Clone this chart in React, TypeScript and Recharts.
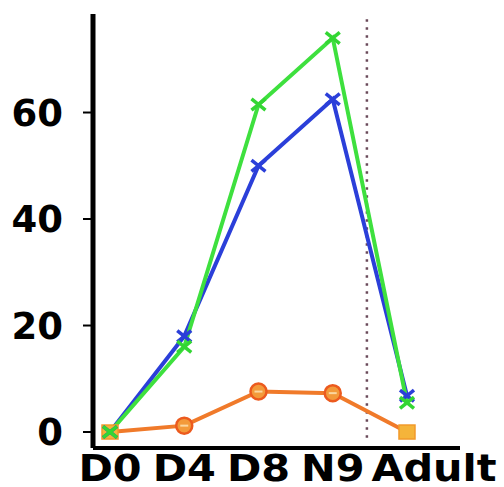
import React from 'react';
import { LineChart, Line, XAxis, YAxis, ReferenceLine } from 'recharts';

const categories = ['D0', 'D4', 'D8', 'N9', 'Adult'];
const greenValues = [0, 16, 61.5, 74, 5.5];
const blueValues = [0, 18, 50, 62.5, 6.8];
const orangeValues = [0, 1.2, 7.6, 7.3, 0];
const yTicks = [0, 20, 40, 60];
const dividerX = 3.46;

const data = categories.map((c, i) => ({
  idx: i,
  cat: c,
  green: greenValues[i],
  blue: blueValues[i],
  orange: orangeValues[i],
}));

const FONT = '"DejaVu Sans", sans-serif';

const CrossDot = (color: string) => (props: any) => {
  const { cx, cy, index } = props;
  if (cx == null || cy == null) return <g key={index} />;
  const s = 7;
  return (
    <g key={index}>
      <line x1={cx - s} y1={cy - s * 0.8} x2={cx + s} y2={cy + s * 0.8} stroke={color} strokeWidth={3.5} />
      <line x1={cx - s} y1={cy + s * 0.8} x2={cx + s} y2={cy - s * 0.8} stroke={color} strokeWidth={3.5} />
    </g>
  );
};

const OrangeDot = (props: any) => {
  const { cx, cy, index } = props;
  if (cx == null || cy == null) return <g key={index} />;
  if (index === 0 || index === 4) {
    return (
      <rect key={index} x={cx - 8} y={cy - 7} width={16} height={14} fill="#f5b43a" stroke="#f29a2a" strokeWidth={1.5} />
    );
  }
  return (
    <g key={index}>
      <circle cx={cx} cy={cy} r={8} fill="#f39a3a" stroke="#ec5a1e" strokeWidth={2.5} />
      <line x1={cx - 4} y1={cy} x2={cx + 4} y2={cy} stroke="#fbd7a0" strokeWidth={2} />
    </g>
  );
};

const XTick = (props: any) => {
  const { x, y, payload, index } = props;
  const shift = index === 4 ? 27 : 0;
  return (
    <g transform={`translate(${x + shift},${y}) scale(1.12,1)`}>
      <text x={0} y={0} dy="0.71em" textAnchor="middle" fontFamily={FONT} fontWeight="bold" fontSize={37} fill="#000">
        {categories[payload.value]}
      </text>
    </g>
  );
};

export default function App() {
  return (
    <div style={{ position: 'absolute', left: 0, top: 0, background: '#fff' }}>
      <LineChart width={504} height={487} data={data} margin={{ top: 14, right: 44, bottom: 0, left: 0 }}>
        <XAxis
          dataKey="idx"
          type="number"
          domain={[-0.229, 4.714]}
          ticks={[0, 1, 2, 3, 4]}
          height={39}
          axisLine={{ stroke: '#000', strokeWidth: 4 }}
          tickLine={false}
          tickSize={6}
          tickMargin={1}
          tick={<XTick />}
          interval={0}
          allowDataOverflow
        />
        <YAxis
          type="number"
          domain={[-3, 78.5]}
          ticks={yTicks}
          width={93}
          axisLine={{ stroke: '#000', strokeWidth: 5 }}
          tickLine={{ stroke: '#000', strokeWidth: 2 }}
          tickSize={10}
          tickMargin={20}
          tick={{ fontFamily: FONT, fontWeight: 'bold', fontSize: 37, fill: '#000' }}
          allowDataOverflow
        />
        <ReferenceLine
          segment={[{ x: dividerX, y: 77.5 }, { x: dividerX, y: -2 }]}
          stroke="#6a4a5a"
          strokeWidth={2.5}
          strokeDasharray="2.5 5.5"
        />
        <Line dataKey="orange" stroke="#f07a2a" strokeWidth={4} dot={OrangeDot} isAnimationActive={false} />
        <Line dataKey="blue" stroke="#2b3fd9" strokeWidth={4} dot={CrossDot('#2b3fd9')} isAnimationActive={false} />
        <Line dataKey="green" stroke="#3ee03e" strokeWidth={4} dot={CrossDot('#33d633')} isAnimationActive={false} />
      </LineChart>
    </div>
  );
}
